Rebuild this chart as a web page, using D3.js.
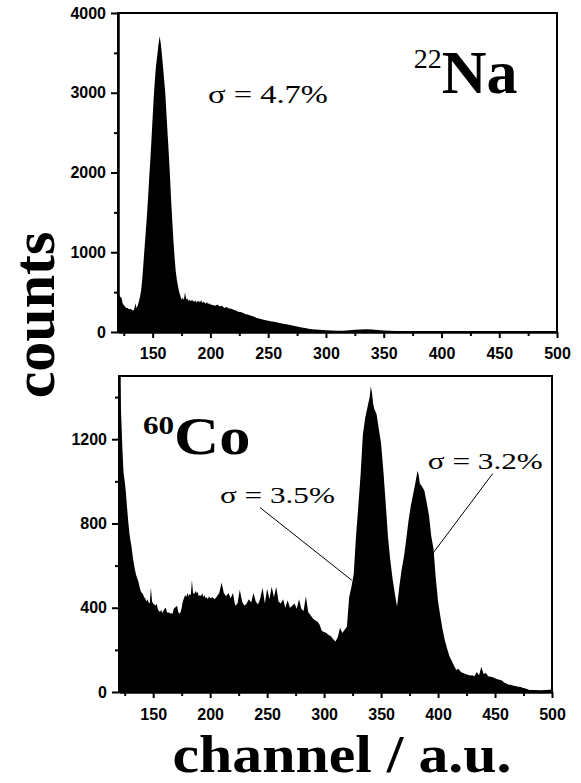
<!DOCTYPE html>
<html>
<head>
<meta charset="utf-8">
<script src="https://cdn.jsdelivr.net/npm/d3@7"></script>
<style>
body{margin:0;background:#fff;}
svg{display:block;}
.tick text{font-family:"Liberation Sans",Arial,sans-serif;font-weight:bold;font-size:16px;fill:#000;}
.serif{font-family:"Liberation Serif","Times New Roman",serif;fill:#000;}
</style>
</head>
<body>
<svg width="581" height="783"></svg>
<script>
// channel ticks (both panels)
var xTicks=[150,200,250,300,350,400,450,500];
var xMinor=[125,175,225,275,325,375,425,475];
var naYTicks=[0,1000,2000,3000,4000];
var naYMinor=[500,1500,2500,3500];
var coYTicks=[0,400,800,1200];
var coYMinor=[200,600,1000,1400];

// 22Na spectrum [channel, counts]
var naSpectrum=[[120,461],[121,470],[122,440],[123,430],[124,360],[125,340],[126,320],[127,300],[128,305],[129,290],
[130,285],[131,292],[132,275],[133,270],[134,282],[135,360],[136,300],[137,330],[138,380],[139,440],
[140,520],[141,660],[142,860],[143,1060],[144,1250],[145,1450],[146,1680],[147,1930],[148,2160],[149,2420],
[150,2700],[151,2960],[152,3180],[153,3350],[154,3470],[155,3600],[156,3710],[157,3620],[158,3480],[159,3320],
[160,3150],[161,2980],[162,2720],[163,2470],[164,2230],[165,1950],[166,1650],[167,1390],[168,1140],[169,930],
[170,760],[171,650],[172,570],[173,500],[174,450],[175,405],[176,430],[177,400],[178,500],[179,410],
[180,420],[181,390],[182,405],[183,385],[184,400],[185,390],[186,380],[187,395],[188,370],[189,385],
[190,390],[191,370],[192,400],[193,365],[194,380],[195,370],[196,355],[197,375],[198,350],[199,360],
[200,345],[202,340],[204,330],[206,345],[208,320],[210,330],[212,300],[214,315],[216,295],[218,290],
[220,280],[222,270],[224,255],[226,250],[228,240],[230,225],[232,220],[234,210],[236,200],[238,190],
[240,175],[243,165],[246,155],[249,145],[252,135],[255,128],[258,120],[261,110],[264,100],[267,95],
[270,85],[273,75],[276,65],[279,58],[282,50],[285,42],[288,36],[291,30],[294,27],[297,24],
[300,22],[305,18],[310,15],[315,17],[320,22],[325,28],[330,30],[335,35],[340,32],[345,25],
[350,20],[355,15],[360,12],[370,8],[380,6],[400,5],[420,5],[440,4],[460,4],[480,3],[500,3]];

// 60Co spectrum [channel, counts]
var coSpectrum=[[120,1480],[121,1450],[122,1300],[123,1150],[124,1040],[125,1000],[126,950],[127,880],[128,815],[129,760],
[130,720],[131,690],[132,645],[133,610],[134,580],[135,555],[136,540],[137,525],[138,500],[139,480],
[140,470],[141,465],[142,450],[143,445],[144,430],[145,440],[146,425],[147,420],[148,496],[149,430],
[150,420],[151,415],[152,410],[153,420],[154,395],[155,385],[156,380],[157,390],[158,375],[159,385],
[160,395],[161,400],[162,380],[163,375],[164,378],[165,372],[166,375],[167,370],[168,395],[169,400],
[170,405],[171,410],[172,380],[173,372],[174,378],[175,400],[176,430],[177,445],[178,460],[179,450],
[180,470],[181,455],[182,465],[183,460],[184,530],[185,470],[186,465],[187,480],[188,470],[189,475],
[190,455],[191,460],[192,455],[193,470],[194,450],[195,460],[196,445],[197,450],[198,440],[199,455],
[200,445],[202,450],[204,440],[206,455],[208,470],[210,520],[212,470],[214,455],[216,470],[218,445],
[220,470],[222,410],[224,420],[226,485],[228,430],[230,410],[232,420],[234,440],[236,425],[238,470],
[240,430],[242,415],[244,445],[246,495],[248,420],[250,490],[252,440],[254,500],[256,450],[258,500],
[260,430],[262,420],[264,440],[266,400],[268,435],[270,400],[272,410],[274,420],[276,395],[278,440],
[280,395],[282,385],[284,455],[286,380],[288,365],[290,350],[292,340],[294,335],[296,320],[298,290],
[300,285],[302,280],[304,270],[306,265],[308,250],[310,240],[312,260],[314,305],[316,280],[318,295],
[320,310],[322,450],[324,500],[326,560],[328,740],[330,880],[332,1030],[334,1220],[336,1300],[338,1350],
[340,1400],[341,1450],[342,1420],[343,1370],[344,1345],[346,1320],[348,1250],[350,1180],[352,1050],[354,900],
[356,740],[358,630],[360,540],[362,470],[364,405],[366,500],[368,580],[370,640],[372,720],[374,810],
[376,880],[378,935],[380,990],[381,1020],[382,1050],[383,1030],[384,990],[386,975],[388,955],[390,900],
[392,840],[394,740],[396,680],[398,540],[400,430],[402,360],[404,295],[406,245],[408,205],[410,170],
[412,148],[414,125],[416,105],[418,110],[420,95],[422,90],[424,85],[426,82],[428,78],[430,80],
[432,75],[434,95],[436,80],[438,120],[440,85],[442,90],[444,75],[446,72],[448,70],[450,65],
[452,60],[454,58],[456,55],[458,45],[460,40],[462,35],[464,35],[466,30],[468,28],[470,25],
[472,25],[474,20],[476,18],[478,14],[480,10],[485,10],[490,8],[495,10],[500,12]];

var svg=d3.select("svg");

var drawPanel=function(opt)
{
  var x=d3.scaleLinear().domain([120,500]).range([opt.left,opt.right]);
  var y=d3.scaleLinear().domain([0,opt.yMax]).range([opt.bottom,opt.top]);
  var g=svg.append("g");

  var area=d3.area()
    .x(function(d){return x(d[0]);})
    .y0(y(0))
    .y1(function(d){return y(d[1]);});

  g.append("path")
    .datum(opt.data)
    .attr("d",area)
    .attr("fill","black");

  // frame
  g.append("rect")
    .attr("x",opt.left).attr("y",opt.top)
    .attr("width",opt.right-opt.left).attr("height",opt.bottom-opt.top)
    .attr("fill","none").attr("stroke","black").attr("stroke-width",2);

  var fmt=d3.format("d");
  var xa=g.append("g").attr("transform","translate(0,"+opt.bottom+")")
    .call(d3.axisBottom(x).tickValues(xTicks).tickFormat(fmt).tickSize(6).tickSizeOuter(0).tickPadding(opt.xPad));
  var xm=g.append("g").attr("transform","translate(0,"+opt.bottom+")")
    .call(d3.axisBottom(x).tickValues(xMinor).tickSize(4).tickSizeOuter(0).tickFormat(""));
  var ya=g.append("g").attr("transform","translate("+opt.left+",0)")
    .call(d3.axisLeft(y).tickValues(opt.yTicks).tickFormat(fmt).tickSize(7).tickSizeOuter(0).tickPadding(5));
  var ym=g.append("g").attr("transform","translate("+opt.left+",0)")
    .call(d3.axisLeft(y).tickValues(opt.yMinor).tickSize(4).tickSizeOuter(0).tickFormat(""));
  [xa,xm,ya,ym].forEach(function(a){
    a.selectAll("path,line").attr("stroke","black").attr("stroke-width",2);
  });
  return {x:x,y:y,g:g};
}

var na=drawPanel({data:naSpectrum,left:118,right:557,top:13,bottom:332,yMax:4000,
  yTicks:naYTicks,yMinor:naYMinor,xPad:10});
var co=drawPanel({data:coSpectrum,left:119,right:552,top:376,bottom:692,yMax:1500,
  yTicks:coYTicks,yMinor:coYMinor,xPad:11});

// top panel labels
na.g.append("text").attr("class","serif")
  .attr("x",na.x(198)).attr("y",na.y(2873))
  .attr("font-size",26)
  .attr("transform","translate("+(na.x(198)*-0.25)+",0) scale(1.25,1)")
  .text("σ = 4.7%");
var n1=na.g.append("text").attr("class","serif")
  .attr("x",na.x(376)).attr("y",na.y(3000));
n1.append("tspan").attr("font-size",28).attr("dy",-25).text("22");
n1.append("tspan").attr("font-size",62).attr("font-weight","bold").attr("dy",25).text("Na");

// bottom panel labels
var c1=co.g.append("text").attr("class","serif")
  .attr("x",co.x(141)).attr("y",co.y(1132))
  .attr("font-weight","bold")
  .attr("transform","translate("+(co.x(141)*-0.2)+",0) scale(1.2,1)");
c1.append("tspan").attr("font-size",26).attr("dy",-20).text("60");
c1.append("tspan").attr("font-size",52).attr("dy",20).text("Co");

var sig=[{ch:208.6,c:895,t:"σ = 3.5%",from:[243.7,876],to:[324.4,530]},
         {ch:391,c:1060,t:"σ = 3.2%",from:[448,1037],to:[395.4,658]}];
sig.forEach(function(s){
  co.g.append("text").attr("class","serif")
    .attr("x",co.x(s.ch)).attr("y",co.y(s.c))
    .attr("font-size",24)
    .attr("transform","translate("+(co.x(s.ch)*-0.3)+",0) scale(1.3,1)")
    .text(s.t);
  co.g.append("line")
    .attr("x1",co.x(s.from[0])).attr("y1",co.y(s.from[1]))
    .attr("x2",co.x(s.to[0])).attr("y2",co.y(s.to[1]))
    .attr("stroke","black").attr("stroke-width",1);
});

// axis titles
svg.append("text").attr("class","serif")
  .attr("font-size",60).attr("font-weight","bold")
  .attr("text-anchor","middle")
  .attr("transform","translate(54,315) rotate(-90)")
  .text("counts");
svg.append("text").attr("class","serif")
  .attr("font-size",53).attr("font-weight","bold")
  .attr("text-anchor","middle")
  .attr("x",342).attr("y",772)
  .attr("textLength",339).attr("lengthAdjust","spacingAndGlyphs")
  .text("channel / a.u.");
</script>
</body>
</html>
